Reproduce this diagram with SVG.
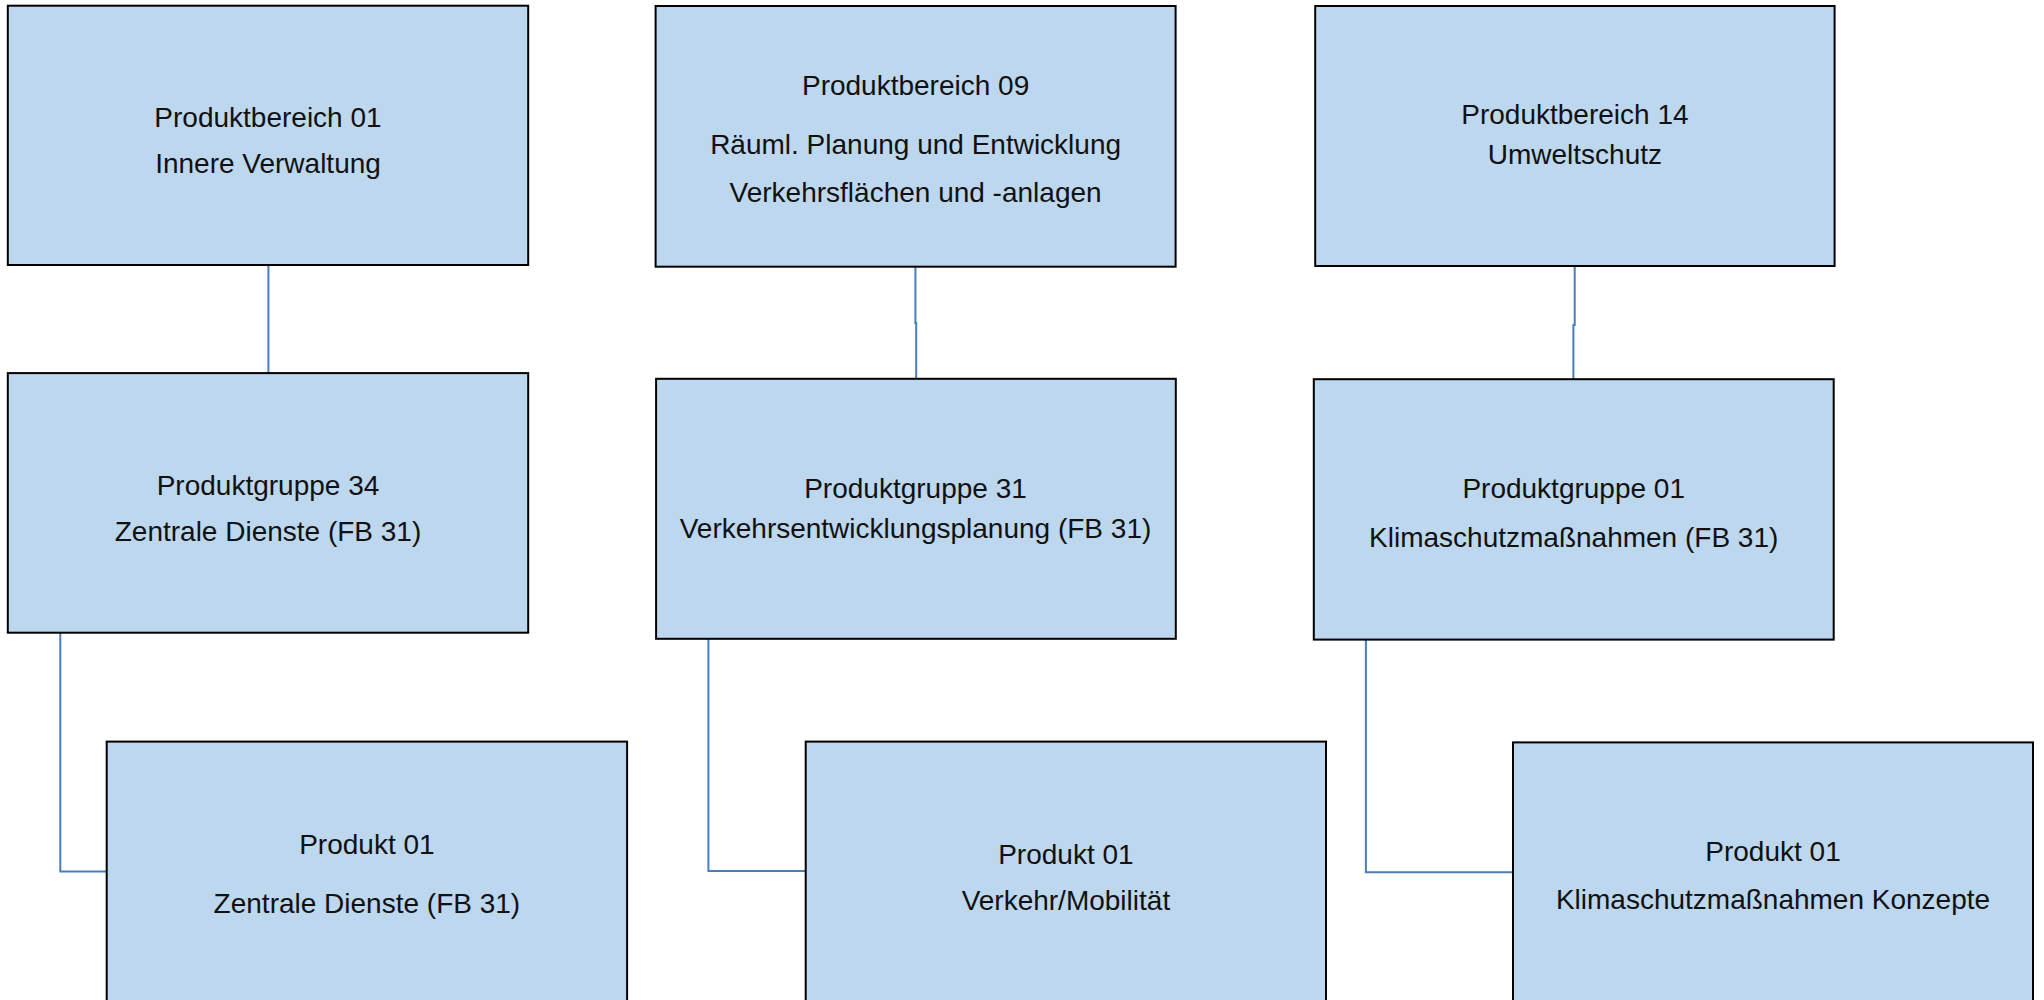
<svg xmlns="http://www.w3.org/2000/svg" width="2044" height="1000" viewBox="0 0 2044 1000">
<style>
.box{fill:#BDD7EE;stroke:#000;stroke-width:2}
.lbl{font-family:"Liberation Sans",Arial,sans-serif;font-size:28px;fill:#111;text-anchor:middle}
.con{fill:none;stroke:#4A7EBB;stroke-width:2}
</style>
<rect width="2044" height="1000" fill="#fff"/>
<g id="connectors">
<path class="con" d="M268.4,265 V373"/>
<path class="con" d="M915.4,266.7 V323 H916.2 V378.5"/>
<path class="con" d="M1574.7,266 V325 H1573.4 V379.2"/>
<path class="con" d="M60.3,632.7 V871.4 H106.7"/>
<path class="con" d="M708.4,638.8 V871 H805.7"/>
<path class="con" d="M1365.9,639.6 V872.2 H1513"/>
</g>
<g id="pb01">
<rect class="box" x="7.8" y="5.7" width="520.4" height="259.3"/>
<text class="lbl" x="268" y="126.7">Produktbereich 01</text>
<text class="lbl" x="268" y="173.3">Innere Verwaltung</text>
</g>
<g id="pb09">
<rect class="box" x="655.6" y="6" width="520" height="260.7"/>
<text class="lbl" x="915.6" y="95">Produktbereich 09</text>
<text class="lbl" x="915.6" y="154">Räuml. Planung und Entwicklung</text>
<text class="lbl" x="915.6" y="202.3">Verkehrsflächen und -anlagen</text>
</g>
<g id="pb14">
<rect class="box" x="1315.2" y="6" width="519.4" height="260"/>
<text class="lbl" x="1574.9" y="124">Produktbereich 14</text>
<text class="lbl" x="1574.9" y="164">Umweltschutz</text>
</g>
<g id="pg34">
<rect class="box" x="7.8" y="373.1" width="520.4" height="259.6"/>
<text class="lbl" x="268" y="494.7">Produktgruppe 34</text>
<text class="lbl" x="268" y="540.8">Zentrale Dienste (FB 31)</text>
</g>
<g id="pg31">
<rect class="box" x="656.1" y="378.8" width="519.7" height="260"/>
<text class="lbl" x="915.5" y="497.6">Produktgruppe 31</text>
<text class="lbl" x="915.5" y="537.6">Verkehrsentwicklungsplanung (FB 31)</text>
</g>
<g id="pg01">
<rect class="box" x="1313.8" y="379.2" width="519.9" height="260.4"/>
<text class="lbl" x="1573.7" y="497.6">Produktgruppe 01</text>
<text class="lbl" x="1573.7" y="546.5">Klimaschutzmaßnahmen (FB 31)</text>
</g>
<g id="p01a">
<rect class="box" x="106.7" y="741.6" width="520.4" height="270"/>
<text class="lbl" x="366.9" y="853.9">Produkt 01</text>
<text class="lbl" x="366.9" y="913">Zentrale Dienste (FB 31)</text>
</g>
<g id="p01b">
<rect class="box" x="805.7" y="741.6" width="520.3" height="270"/>
<text class="lbl" x="1065.9" y="864">Produkt 01</text>
<text class="lbl" x="1065.9" y="909.8">Verkehr/Mobilität</text>
</g>
<g id="p01c">
<rect class="box" x="1513" y="742.4" width="520" height="270"/>
<text class="lbl" x="1773" y="860.8">Produkt 01</text>
<text class="lbl" x="1773" y="909">Klimaschutzmaßnahmen Konzepte</text>
</g>
</svg>
